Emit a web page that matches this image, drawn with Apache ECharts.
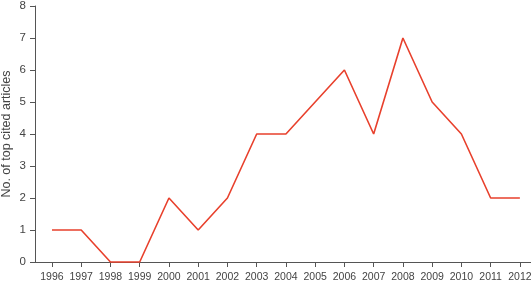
<!DOCTYPE html>
<html><head><meta charset="utf-8">
<script src="https://cdn.jsdelivr.net/npm/echarts@6/dist/echarts.min.js"></script>
<style>html,body{margin:0;padding:0;background:#fff}#c{width:531px;height:287px}</style>
</head><body><div id="c"></div>
<script>
var years = [1996,1997,1998,1999,2000,2001,2002,2003,2004,2005,2006,2007,2008,2009,2010,2011,2012];
var counts = [1,1,0,0,2,1,2,4,4,5,6,4,7,5,4,2,2];
var yTicks = [0,1,2,3,4,5,6,7,8];
var yTitle = 'No. of top cited articles';

var chart = echarts.init(document.getElementById('c'), null, {renderer:'canvas'});
var font = 'Liberation Sans, Arial, sans-serif';
chart.setOption({
  animation:false,
  grid:{left:35, top:6, right:0, bottom:25, containLabel:false, outerBoundsMode:'none'},
  xAxis:{
    type:'value', min:1995.42, max:2012.38,
    splitLine:{show:false},
    axisLine:{lineStyle:{color:'#555', width:1}},
    axisTick:{show:true, length:5, lineStyle:{color:'#555'}, customValues:years},
    axisLabel:{color:'#444', fontSize:10.5, fontFamily:font, margin:10, customValues:years, formatter:function(v){return String(v);}}
  },
  yAxis:{
    type:'value', min:0, max:8, interval:1,
    name:yTitle, nameLocation:'middle', nameGap:22, nameMoveOverlap:false,
    nameTextStyle:{color:'#444', fontSize:12.5, fontFamily:font},
    splitLine:{show:false},
    axisLine:{show:true, lineStyle:{color:'#555', width:1}},
    axisTick:{show:true, length:5, lineStyle:{color:'#555'}},
    axisLabel:{color:'#444', fontSize:11.5, fontFamily:font, margin:9}
  },
  series:[{
    type:'line',
    data:years.map(function(y,i){return [y,counts[i]];}),
    symbol:'none',
    lineStyle:{color:'#e8402c', width:1.6},
    clip:false
  }]
});
</script></body></html>
